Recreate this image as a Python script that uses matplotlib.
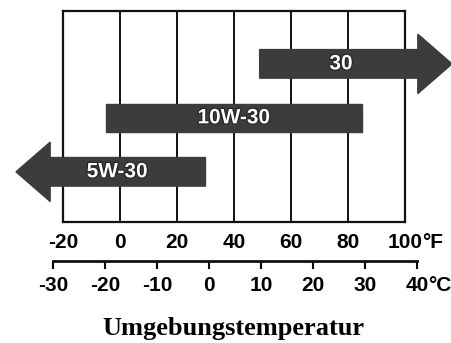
import matplotlib
matplotlib.use("Agg")
import matplotlib.pyplot as plt
from matplotlib.patches import FancyArrow, Rectangle
import matplotlib.patheffects as pe

# Oil grades and their ambient temperature ranges (°F); None = open-ended
grades = ["5W-30", "10W-30", "30"]
low_f = [None, -5, 49]
high_f = [30, 85, None]
rows = [1, 2, 3]

f_ticks = [-20, 0, 20, 40, 60, 80, 100]
f_labels = ["-20", "0", "20", "40", "60", "80", "100"]
c_ticks = [-30, -20, -10, 0, 10, 20, 30, 40]
c_labels = ["-30", "-20", "-10", "0", "10", "20", "30", "40"]
title = "Umgebungstemperatur"

W, H = 452, 343
fig = plt.figure(figsize=(W / 100, H / 100), dpi=100)

sans = ["Liberation Sans", "DejaVu Sans"]
serif = ["Liberation Serif", "DejaVu Serif"]

# main grid in Fahrenheit
ax = fig.add_axes([63 / W, 1 - 222 / H, 342 / W, 211 / H])
ax.set_xlim(-20, 100)
ax.set_ylim(0.07, 3.98)
ax.set_yticks([])
for s in ax.spines.values():
    s.set_linewidth(1.6)
    s.set_color("#111111")
for x in f_ticks[1:-1]:
    ax.axvline(x, color="#111111", lw=1.4, zorder=1)
ax.set_xticks(f_ticks, f_labels, fontsize=15, fontweight="bold", family=sans)
ax.tick_params(axis="x", length=0, pad=8)

bar_col = "#3c3c3c"
body_h = 0.53
head_w = 1.1
head_l = 12
overhang = 16.5  # how far an open-ended arrow runs past the grid

for g, lo, hi, r in zip(grades, low_f, high_f, rows):
    if lo is None:
        start, end = hi, ax.get_xlim()[0] - overhang
        ax.add_patch(FancyArrow(start, r, end - start, 0, width=body_h,
                                head_width=head_w, head_length=head_l,
                                length_includes_head=True, color=bar_col,
                                clip_on=False, zorder=3))
        cx = (end + head_l + start) / 2 - 3.7
    elif hi is None:
        start, end = lo, ax.get_xlim()[1] + overhang
        ax.add_patch(FancyArrow(start, r, end - start, 0, width=body_h,
                                head_width=head_w, head_length=head_l,
                                length_includes_head=True, color=bar_col,
                                clip_on=False, zorder=3))
        cx = (start + end - head_l) / 2 + 0.8
    else:
        ax.add_patch(Rectangle((lo, r - body_h / 2), hi - lo, body_h,
                               color=bar_col, zorder=3))
        cx = (lo + hi) / 2
    ax.text(cx, r, g, ha="center", va="center", fontsize=15, fontweight="bold",
            family=sans, color="white", zorder=4,
            path_effects=[pe.Stroke(linewidth=1.6, foreground="#222222"), pe.Normal()])

# degree-Fahrenheit unit after the last tick label
fig.canvas.draw()
last = ax.get_xticklabels()[-1]
ax.annotate("°F", xy=(1, 0.5), xycoords=last, va="center", ha="left",
            fontsize=15, fontweight="bold", family=sans)

# Celsius scale below
axc = fig.add_axes([53 / W, 1 - 261 / H, 364 / W, 0.001])
axc.set_xlim(-30, 40)
axc.set_yticks([])
for k in ["top", "left", "right"]:
    axc.spines[k].set_visible(False)
axc.spines["bottom"].set_linewidth(2)
axc.spines["bottom"].set_color("#111111")
axc.patch.set_visible(False)
axc.set_xticks(c_ticks, c_labels, fontsize=15, fontweight="bold", family=sans)
axc.tick_params(axis="x", direction="out", length=6, width=1.5, pad=4.5)
fig.canvas.draw()
clast = axc.get_xticklabels()[-1]
axc.annotate("°C", xy=(1, 0.5), xycoords=clast, va="center", ha="left",
             fontsize=15, fontweight="bold", family=sans)

fig.text(233 / W, 1 - 328 / H, title, ha="center", va="center",
         fontsize=19, fontweight="bold", family=serif)

fig.savefig("out.png", dpi=100)
